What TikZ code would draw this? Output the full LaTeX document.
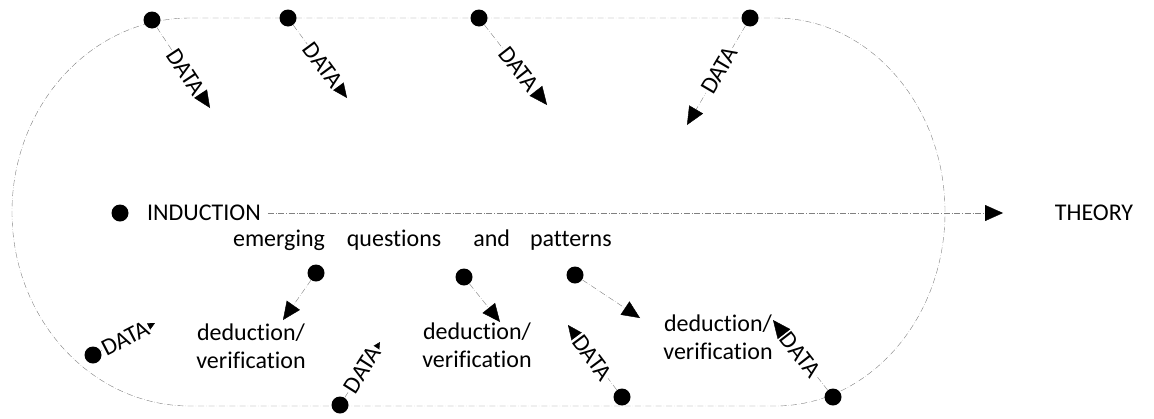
\documentclass[tikz,border=0pt]{standalone}
\usepackage{fontspec}
\setmainfont{Carlito}[Ligatures=NoCommon]
\usetikzlibrary{arrows.meta}
\tikzset{
  faint/.style={gray, very thin, densely dash dot},
  dot/.style={circle, fill=black, inner sep=0pt, minimum size=8.5pt},
  bigtip/.style={-{Triangle[length=9pt,width=8pt,black]}},
  smalltip/.style={-{Triangle[length=4pt,width=4pt,black]}},
  datalabel/.style={sloped, fill=white, text=black, inner sep=0.5pt, font=\fontsize{12}{14}\selectfont},
  lab/.style={font=\fontsize{12}{14}\selectfont, align=center}
}
\begin{document}
\begin{tikzpicture}[x=0.5pt, y=-0.5pt]
	\useasboundingbox (0,0) rectangle (1154,418);
	% the loop
	\draw[faint] (190,18) arc[start angle=-90, end angle=-270, x radius=178, y radius=194]
		-- (775,406) arc[start angle=90, end angle=-90, x radius=170, y radius=194] -- cycle;
	% dots
	\node[dot] (t1) at (152,20) {};
	\node[dot] (t2) at (288,18) {};
	\node[dot] (t3) at (479,18) {};
	\node[dot] (t4) at (750,18) {};
	\node[dot] (b1) at (93,355) {};
	\node[dot] (b2) at (340,405) {};
	\node[dot] (b3) at (622,397) {};
	\node[dot] (b4) at (833,397) {};
	\node[dot] (ind) at (120,213) {};
	\node[dot] (q1) at (316,273) {};
	\node[dot] (q2) at (464,277) {};
	\node[dot] (q3) at (575,275) {};
	% arrow ends
	\coordinate (t1e) at (210,108);
	\coordinate (t2e) at (347,98);
	\coordinate (t3e) at (547,105);
	\coordinate (t4e) at (687,125);
	\coordinate (b1e) at (155,323);
	\coordinate (b2e) at (380,342);
	\coordinate (b3e) at (568,325);
	\coordinate (b4e) at (773,320);
	\coordinate (q1e) at (283,320);
	\coordinate (q2e) at (500,322);
	\coordinate (q3e) at (640,318);
	\coordinate (th) at (1003,213);
	% texts
	\node[lab, anchor=west] (induction) at (140,213) {INDUCTION};
	\node[lab] (theory) at (1094,213) {THEORY};
	\node[lab, anchor=west] (emerging) at (226,240)
		{emerging\hspace{11pt}questions\hspace{16pt}and\hspace{10pt}patterns};
	\node[lab] (ded1) at (251,346) {deduction/\\verification};
	\node[lab] (ded2) at (477,345) {deduction/\\verification};
	\node[lab] (ded3) at (718,337) {deduction/\\verification};
	% arrows
	\draw[faint, bigtip] (induction) -- (th);
	\draw[faint, bigtip] (q1) -- (q1e);
	\draw[faint, bigtip] (q2) -- (q2e);
	\draw[faint, bigtip] (q3) -- (q3e);
	\draw[faint, bigtip] (t1) -- (t1e) node[datalabel, pos=0.55] {DATA};
	\draw[faint, bigtip] (t2) -- (t2e) node[datalabel, pos=0.55] {DATA};
	\draw[faint, bigtip] (t3) -- (t3e) node[datalabel, pos=0.55] {DATA};
	\draw[faint, bigtip] (t4) -- (t4e) node[datalabel, pos=0.45] {DATA};
	\draw[faint, smalltip] (b1) -- (b1e) node[datalabel, pos=0.45] {DATA};
	\draw[faint, smalltip] (b2) -- (b2e) node[datalabel, pos=0.5] {DATA};
	\draw[faint, bigtip] (b3) -- (b3e) node[datalabel, pos=0.5] {DATA};
	\draw[faint, bigtip] (b4) -- (b4e) node[datalabel, pos=0.5] {DATA};
\end{tikzpicture}
\end{document}
